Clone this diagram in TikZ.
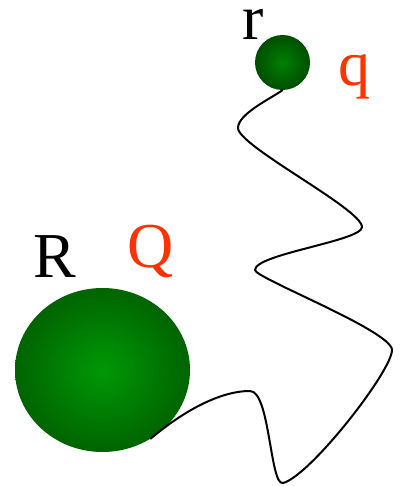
\documentclass[tikz,border=0pt]{standalone}
\usepackage{fontspec}
\setmainfont{Liberation Serif}
\usepackage{tikz}
\usetikzlibrary{shapes.geometric}
\definecolor{chargecol}{RGB}{255,51,0}
\definecolor{ballhi}{RGB}{0,152,6}
\definecolor{balledge}{RGB}{0,100,0}
\definecolor{smallhi}{RGB}{0,128,4}
\definecolor{smalledge}{RGB}{0,78,0}
\tikzset{
  bigball/.style={ellipse, inner sep=0pt, minimum width=175pt, minimum height=164pt,
    shade, inner color=ballhi, outer color=balledge},
  smallball/.style={circle, inner sep=0pt, minimum size=55pt,
    shade, inner color=smallhi, outer color=smalledge},
  radlabel/.style={anchor=base, inner sep=0pt, font=\fontsize{64}{70}\selectfont, text=black},
  chglabel/.style={anchor=base, inner sep=0pt, font=\fontsize{64}{70}\selectfont, text=chargecol},
  wire/.style={line width=2pt, line cap=round, line join=round},
}

\begin{document}
\begin{tikzpicture}[x=1pt,y=1pt]
    \useasboundingbox (0,0) rectangle (404,486);
    % the two spheres
    \node[bigball] (big) at (102.5,116) {};
    \node[smallball] (small) at (282.5,423.5) {};
    % radii and charges
    \node[radlabel] (labR) at (55,208) {R};
    \node[chglabel] (labQ) at (151,218) {Q};
    \node[radlabel] (labr) at (253,446) {r};
    \node[chglabel] (labq) at (354,400) {q};
    % the wiggly wire joining them
    \draw[wire] (small.south)
      .. controls (270,387) and (238,372) .. (238,358)
      .. controls (238,340) and (362,277) .. (362,259)
      .. controls (362,245) and (255,232) .. (255,216)
      .. controls (255,208) and (392,155) .. (392,136)
      .. controls (392,115) and (310,10) .. (283,3)
      .. controls (270,0) and (270,95) .. (250,95)
      .. controls (215,95) and (175,68) .. (big.-55);
\end{tikzpicture}
\end{document}
